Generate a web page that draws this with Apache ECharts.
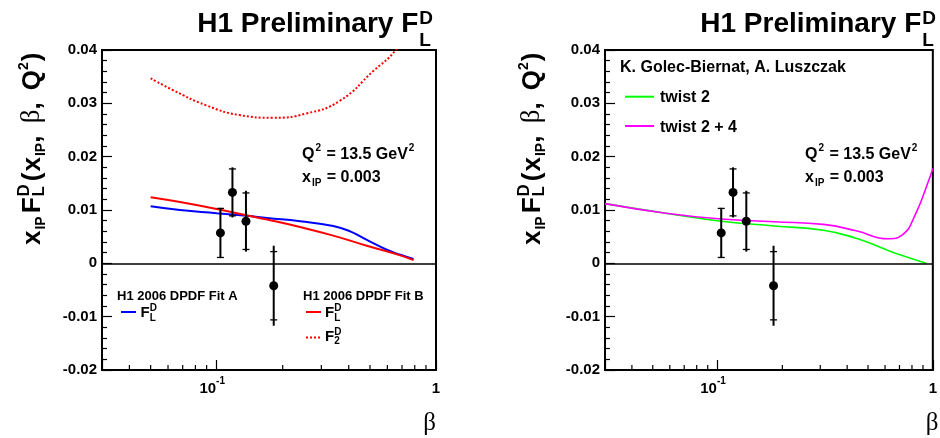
<!DOCTYPE html>
<html><head><meta charset="utf-8">
<script src="https://cdn.jsdelivr.net/npm/echarts@6/dist/echarts.min.js"></script>
<style>html,body{margin:0;padding:0;background:#fff}#c{width:940px;height:438px}</style>
</head><body><div id="c"></div>
<script>
// ---------- data ----------
const betaPts = [0.104, 0.118, 0.136, 0.182];
const flPts = [0.0057, 0.0133, 0.0079, -0.0042];
const statErr = [0.0046, 0.0044, 0.0053, 0.0064];
const totErr = [0.0047, 0.0047, 0.0057, 0.0075];

const fitA_FL = [[0.05,0.0107],[0.068,0.0100],[0.1,0.0094],[0.137,0.0089],[0.17,0.0085],[0.24,0.0079],[0.34,0.0070],[0.406,0.0060],[0.484,0.0044],[0.6,0.0025],[0.687,0.0016],[0.79,0.0008]];
const fitB_FL = [[0.05,0.0124],[0.068,0.0115],[0.1,0.0102],[0.137,0.0090],[0.17,0.0082],[0.24,0.0068],[0.34,0.0052],[0.484,0.0033],[0.687,0.0015],[0.79,0.0006]];
const fitB_F2 = [[0.05,0.0347],[0.063,0.0325],[0.09,0.0296],[0.127,0.0278],[0.18,0.0273],[0.257,0.0281],[0.365,0.0305],[0.519,0.0361],[0.652,0.0399],[0.79,0.0455]];
const twist2 = [[0.03,0.0112],[0.0575,0.0094],[0.104,0.0079],[0.183,0.0070],[0.31,0.0062],[0.44,0.0047],[0.604,0.0026],[0.693,0.0017],[0.93,0.0]];
const twist24 = [[0.03,0.0112],[0.0575,0.0094],[0.104,0.0083],[0.183,0.0078],[0.31,0.0073],[0.44,0.0061],[0.62,0.0046],[0.719,0.0053],[0.828,0.0091],[0.97,0.0162],[1.0,0.0178]];

const xMinorTicks = [0.03,0.04,0.05,0.06,0.07,0.08,0.09,0.2,0.3,0.4,0.5,0.6,0.7,0.8,0.9];
const X_MIN = 0.03, X_MAX = 1;
const Y_MIN = -0.02, Y_MAX = 0.04, Y_STEP = 0.01;

// ---------- helpers ----------
const SANS = '"Liberation Sans", Arial, Helvetica, sans-serif';
const SERIF = '"Liberation Serif", "Times New Roman", serif';
const mctx = document.createElement('canvas').getContext('2d');
function fontStr(p){ return (p.bold===false?'normal':'bold') + ' ' + p.fs + 'px ' + (p.fam||SANS); }
function tw(p){ mctx.font = fontStr(p); return mctx.measureText(p.t).width; }
function textRun(pieces, x, y, align, rotation, color){
  let cx = 0, pStart = null, pW = 0; const items = [];
  for (const p of pieces){
    const w = tw(p);
    const sx = (pStart!==null ? pStart : cx);
    items.push({p, x: sx + (p.dx||0), w});
    if (p.stack){ pStart = sx; pW = Math.max(pW, w); continue; }
    if (pStart!==null){ cx = sx + Math.max(pW, w) + (p.gap||0); pStart=null; pW=0; }
    else cx = sx + w + (p.gap||0);
  }
  const off = align==='right' ? -cx : 0;
  return {type:'group', x, y, rotation: rotation||0, silent:true,
    children: items.map(it => ({type:'text', x: it.x+off, y: (it.p.dy||0) - 0.33*it.p.fs,
      style:{text: it.p.t, font: fontStr(it.p), fill: color||'#000', align:'left', verticalAlign:'middle', textAlign:'left', textVerticalAlign:'middle'}}))};
}
function hline(x1,x2,y,color,dash){ return {type:'line', silent:true, shape:{x1,y1:y,x2,y2:y}, style:{stroke:color, lineWidth:2, lineDash: dash||null}}; }

// ---------- layout ----------
const grids = [
  {left:102, top:50, width:334, height:320, show:true, borderColor:'#000', borderWidth:2, backgroundColor:'transparent'},
  {left:605, top:50, width:333, height:320, show:true, borderColor:'#000', borderWidth:2, backgroundColor:'transparent'}
];
const xLabelFmt = v => {
  if (Math.abs(Math.log10(v)+1) < 1e-6) return '{m|10}{s|-1}';
  if (Math.abs(v-1) < 1e-6) return '{m|1}';
  return '';
};
function xAxisFor(i){
  return {type:'log', logBase:10, gridIndex:i, min:X_MIN, max:X_MAX,
    axisLine:{show:true, onZero:false, lineStyle:{color:'#000', width:2}},
    axisTick:{show:true, inside:true, length:10, lineStyle:{color:'#000', width:1.2}},
    minorTick:{show:false}, splitLine:{show:false},
    axisLabel:{margin:6, formatter:xLabelFmt, showMinLabel:true, showMaxLabel:true, hideOverlap:false,
      rich:{ m:{fontSize:15, fontWeight:'bold', fontFamily:SANS, color:'#000', lineHeight:20, verticalAlign:'bottom'},
             s:{fontSize:10, fontWeight:'bold', fontFamily:SANS, color:'#000', lineHeight:11, verticalAlign:'top', padding:[0,9,0,0]} } }
  };
}
function yAxisFor(i){
  return {type:'value', gridIndex:i, min:Y_MIN, max:Y_MAX, interval:Y_STEP,
    axisLine:{show:true, onZero:false, lineStyle:{color:'#000', width:2}},
    axisTick:{show:true, inside:true, length:10, lineStyle:{color:'#000', width:1.2}},
    minorTick:{show:true, splitNumber:5, length:5, lineStyle:{color:'#000', width:1.2}},
    splitLine:{show:false},
    axisLabel:{margin:5, color:'#000', fontFamily:SANS, fontWeight:'bold', fontSize:15,
      formatter: v => Math.abs(v) < 1e-9 ? '0' : v.toFixed(2)}
  };
}
function pointSeries(i){
  return [
    {type:'custom', xAxisIndex:i, yAxisIndex:i, silent:true, z:5, clip:false,
     data: xMinorTicks.map(v => [v, Y_MIN]),
     renderItem:(params, api) => { const p = api.coord([api.value(0), api.value(1)]);
       return {type:'line', shape:{x1:p[0], y1:p[1], x2:p[0], y2:p[1]-5}, style:{stroke:'#000', lineWidth:1.2}}; }},
    {type:'custom', xAxisIndex:i, yAxisIndex:i, silent:true, z:8,
     encode:{x:0, y:1},
     data: betaPts.map((b,k) => [b, flPts[k], flPts[k]-totErr[k], flPts[k]+totErr[k], flPts[k]-statErr[k], flPts[k]+statErr[k]]),
     renderItem:(params, api) => {
       const x = api.value(0);
       const lo = api.coord([x, api.value(2)]), hi = api.coord([x, api.value(3)]);
       const sl = api.coord([x, api.value(4)]), sh = api.coord([x, api.value(5)]);
       const cw = 3.5;
       return {type:'group', children:[
         {type:'line', shape:{x1:lo[0], y1:lo[1], x2:hi[0], y2:hi[1]}, style:{stroke:'#000', lineWidth:2}},
         {type:'line', shape:{x1:sl[0]-cw, y1:sl[1], x2:sl[0]+cw, y2:sl[1]}, style:{stroke:'#000', lineWidth:1.3}},
         {type:'line', shape:{x1:sh[0]-cw, y1:sh[1], x2:sh[0]+cw, y2:sh[1]}, style:{stroke:'#000', lineWidth:1.3}}
       ]};
     }},
    {type:'scatter', xAxisIndex:i, yAxisIndex:i, silent:true, z:9, symbol:'circle', symbolSize:9,
     itemStyle:{color:'#000', opacity:1}, data: betaPts.map((b,k) => [b, flPts[k]]),
     markLine:{silent:true, symbol:'none', label:{show:false}, lineStyle:{color:'#000', width:1.5, type:'solid', opacity:1},
       data:[{yAxis:0}], animation:false}}
  ];
}
function curve(i, data, color, width, dash){
  return {type:'line', xAxisIndex:i, yAxisIndex:i, data, showSymbol:false, symbol:'none', smooth:0.5,
    silent:true, z:4, lineStyle:{color, width, type: dash || 'solid', opacity:1}};
}

// ---------- graphics (text annotations) ----------
const graphics = [];
const OFF = 503;
[0, OFF].forEach((o, idx) => {
  graphics.push(textRun([{t:'H1 Preliminary F', fs:28}, {t:'D', fs:19, dy:-8.5, stack:true, dx:1}, {t:'L', fs:19, dy:13.5, dx:1}], 432+o, 33.5, 'right'));
  graphics.push(textRun([
    {t:'x', fs:26, gap:1}, {t:'IP', fs:14, dy:5, gap:3}, {t:'F', fs:26, gap:1},
    {t:'D', fs:17, dy:-11, stack:true}, {t:'L', fs:17, dy:4, gap:3},
    {t:'(', fs:26, gap:1}, {t:'x', fs:26, gap:1}, {t:'IP', fs:14, dy:5}, {t:', ', fs:26, gap:5},
    {t:'β', fs:27, bold:false, fam:SERIF}, {t:', ', fs:26, gap:5}, {t:'Q', fs:26}, {t:'2', fs:14, dy:-12, gap:1}, {t:')', fs:26}
  ], 41+o - (idx?3:0), 245, 'left', Math.PI/2));
  graphics.push({type:'text', silent:true, x: 436+o - (idx?0.5:0), y: 423, style:{text:'β', font:'normal 25px '+SERIF, fill:'#000', align:'right', verticalAlign:'middle', textAlign:'right', textVerticalAlign:'middle'}});
  graphics.push(textRun([{t:'Q', fs:16, gap:1}, {t:'2', fs:10, dy:-8, gap:1}, {t:' = 13.5 GeV', fs:16, gap:1}, {t:'2', fs:10, dy:-8}], 302+o, 160, 'left'));
  graphics.push(textRun([{t:'x', fs:16, gap:1}, {t:'IP', fs:10, dy:4, gap:1}, {t:' = 0.003', fs:16}], 302+o, 183, 'left'));
});
graphics.push(textRun([{t:'H1 2006 DPDF Fit A', fs:13}], 117, 301, 'left'));
graphics.push(hline(121, 136, 312, '#0000ff'));
graphics.push(textRun([{t:'F', fs:15}, {t:'D', fs:10, dy:-6, stack:true}, {t:'L', fs:10, dy:4}], 140.5, 317.5, 'left'));
graphics.push(textRun([{t:'H1 2006 DPDF Fit B', fs:13}], 303, 301, 'left'));
graphics.push(hline(306, 321, 312, '#ff0000'));
graphics.push(textRun([{t:'F', fs:15}, {t:'D', fs:10, dy:-6, stack:true}, {t:'L', fs:10, dy:4}], 325, 317.5, 'left'));
graphics.push(hline(306, 321, 337.5, '#ff0000', [2,2]));
graphics.push(textRun([{t:'F', fs:15}, {t:'D', fs:10, dy:-6, stack:true}, {t:'2', fs:10, dy:3}], 325, 341.5, 'left'));
graphics.push(textRun([{t:'K. Golec-Biernat, A. Luszczak', fs:16}], 620, 72.7, 'left'));
graphics.push(hline(625, 654, 96.7, '#00ff00'));
graphics.push(textRun([{t:'twist 2', fs:16}], 660, 103.3, 'left'));
graphics.push(hline(625, 654, 126, '#ff00ff'));
graphics.push(textRun([{t:'twist 2 + 4', fs:16}], 660, 132.7, 'left'));

const option = {
  animation:false,
  backgroundColor:'#fff',
  grid: grids,
  xAxis: [xAxisFor(0), xAxisFor(1)],
  yAxis: [yAxisFor(0), yAxisFor(1)],
  series: [
    ...pointSeries(0),
    curve(0, fitA_FL, '#0000ff', 2),
    curve(0, fitB_FL, '#ff0000', 2),
    curve(0, fitB_F2, '#ff0000', 2, [2, 2]),
    ...pointSeries(1),
    curve(1, twist2, '#00ff00', 1.6),
    curve(1, twist24, '#ff00ff', 1.6)
  ],
  graphic: graphics
};
const chart = echarts.init(document.getElementById('c'), null, {renderer:'canvas'});
chart.setOption(option);
</script>
</body></html>
